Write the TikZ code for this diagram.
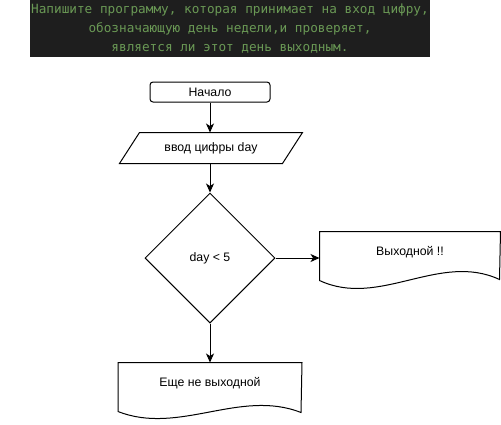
\documentclass[tikz,border=0pt]{standalone}
\usepackage{fontspec}
\setmainfont{Liberation Sans}
\setmonofont{DejaVu Sans Mono}
\usetikzlibrary{shapes.geometric,arrows.meta}
\definecolor{termbg}{RGB}{30,30,30}
\definecolor{termgreen}{RGB}{106,153,85}
\begin{document}
\begin{tikzpicture}[x=1pt,y=-1pt,line width=1pt,
  every node/.style={font=\fontsize{12.3}{14}\selectfont},
  arr/.style={-{Stealth[length=9pt,width=8pt,inset=2.5pt]}},
  startbox/.style={draw,rounded corners=3pt,minimum width=120pt,minimum height=20pt},
  decision/.style={draw,diamond,minimum width=130pt,minimum height=130pt,inner sep=0pt},
  plainbox/.style={inner sep=0pt}]
  \useasboundingbox (0,0) rectangle (501,424);
  % task text
  \fill[termbg] (30,0) rectangle (430,57);
  \node[font=\ttfamily\fontsize{12.7}{19}\selectfont,text=termgreen,align=center] (task) at (230,29)
    {Напишите программу, которая принимает на вход цифру,\\
     обозначающую день недели,и проверяет,\\
     является ли этот день выходным.};
  % flowchart
  \node[startbox] (start) at (210,92) {Начало};
  \node[plainbox,minimum width=182pt,minimum height=30pt] (input) at (211,148) {ввод цифры day};
  \node[decision] (cond) at (210,258) {day < 5};
  \node[plainbox,minimum width=180pt,minimum height=40pt] (weekend) at (410,252) {Выходной !!};
  \node[plainbox,minimum width=183pt,minimum height=40pt] (notweekend) at (210,383) {Еще не выходной};
  \draw ([xshift=20pt]input.north west) -- (input.north east) -- ([xshift=-20pt]input.south east) -- (input.south west) -- cycle;
  \draw (weekend.north west) -- ++(0,49) .. controls +(60,28) and +(-60,-28) .. ++(180,-1) -- (weekend.north east) -- cycle;
  \draw (notweekend.north west) -- ++(0,49) .. controls +(61,24) and +(-61,-24) .. ++(183,1) -- (notweekend.north east) -- cycle;
  \draw[arr] (start.south) -- (start.south |- input.north);
  \draw[arr] (start.south |- input.south) -- (cond.north);
  \draw[arr] (cond.east) -- (cond.east -| weekend.west);
  \draw[arr] (cond.south) -- (notweekend.north);
\end{tikzpicture}
\end{document}
